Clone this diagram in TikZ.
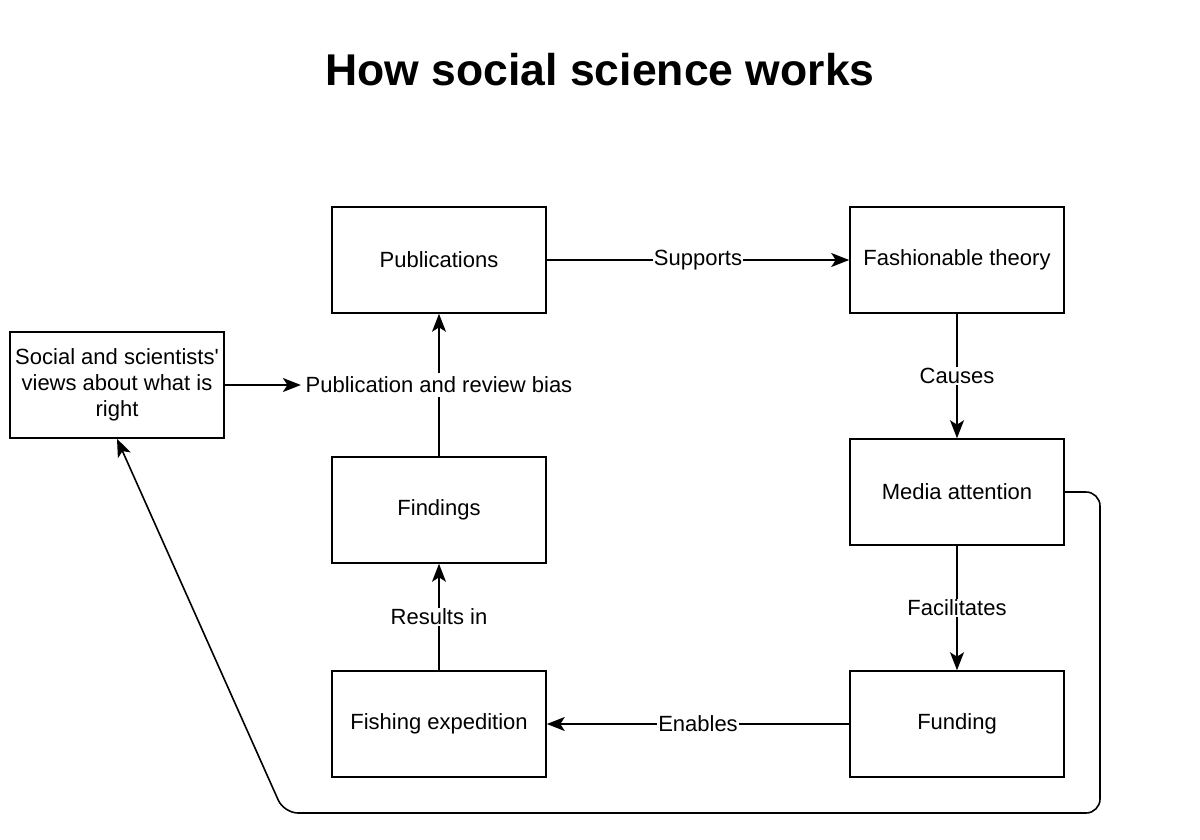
\documentclass[tikz,border=0pt]{standalone}
\usepackage{fontspec}
\setmainfont{Liberation Sans}
\usetikzlibrary{arrows.meta}
\tikzset{>={Stealth[length=18pt,width=14pt,inset=4.5pt]}}
\begin{document}
\begin{tikzpicture}[x=1pt,y=-1pt,
  box/.style={draw,line width=1.6pt,minimum width=214pt,minimum height=106pt,inner sep=2pt,font=\fontsize{22}{26}\selectfont,align=center},
  arr/.style={line width=1.6pt,->},
  lab/.style={fill=white,inner sep=1pt,font=\fontsize{22}{26}\selectfont}]
\useasboundingbox (0,0) rectangle (1200,839);
\node[font=\bfseries\fontsize{44.5}{50}\selectfont] (title) at (600,70) {How social science works};
\node[box] (pub) at (439,260) {Publications};
\node[box] (fash) at (957,260) {Fashionable theory};
\node[box] (media) at (957,492) {Media attention};
\node[box] (fund) at (957,724) {Funding};
\node[box] (fish) at (439,724) {Fishing expedition};
\node[box] (find) at (439,510) {Findings};
\node[box] (views) at (117,385) {Social and scientists\textquotesingle\\views about what is\\right};
\coordinate (c1) at (1100,492);
\coordinate (c2) at (1100,813);
\coordinate (c3) at (284,813);
\draw[arr] (pub) -- node[lab] (supp) {Supports} (fash);
\draw[arr] (fash) -- node[lab] (caus) {Causes} (media);
\draw[arr] (media) -- node[lab] (facil) {Facilitates} (fund);
\draw[arr] (fund) -- node[lab] (enab) {Enables} (fish);
\draw[arr] (fish) -- node[lab] (resin) {Results in} (find);
\draw[arr] (find) -- node[lab,inner sep=4pt] (pbias) {Publication and review bias} (pub);
\draw[arr] (views) -- (pbias.west);
\draw[arr,rounded corners=14pt] (media.east) -- (c1) -- (c2) -- (c3) -- (views.south);
\end{tikzpicture}
\end{document}
